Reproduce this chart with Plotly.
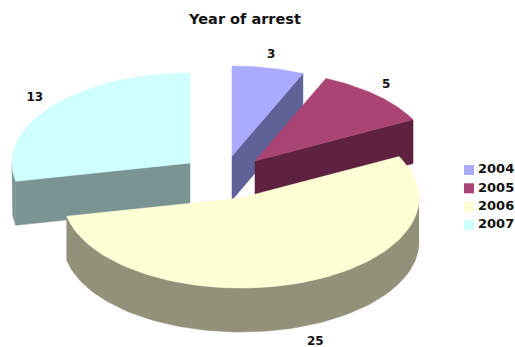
import numpy as np
import plotly.graph_objects as go

# Arrests per year
years = ["2004", "2005", "2006", "2007"]
arrests = [3, 5, 25, 13]

top_colors = ["#AAAAFF", "#A94474", "#FFFFD5", "#CFFFFF"]
side_colors = ["#5E6296", "#5F2140", "#92927A", "#7A9494"]

# Exploded slice centres on the 515x347 canvas
centers_x = [232, 255, 241, 190]
centers_y = [156, 161, 198, 163]
label_nudge_x = [0, 0, 10, -6]
label_nudge_y = [0, 0, 2, 0]

RX, RY = 178, 90   # ellipse radii of the tilted pie
DEPTH = 44         # extruded thickness
LABEL_SCALE_X = 1.08
LABEL_SCALE_Y = 1.15


def arc(cx, cy, start, end, n=90):
    """Points on the tilted rim, angles clockwise from 12 o'clock in radians."""
    t = np.linspace(start, end, n)
    return cx + RX * np.sin(t), cy - RY * np.cos(t)


def add_poly(fig, xs, ys, color):
    fig.add_trace(go.Scatter(x=xs, y=ys, mode="lines", fill="toself", fillcolor=color,
                             line=dict(color=color, width=0.5), hoverinfo="skip",
                             showlegend=False))


fig = go.Figure()

# Turn the values into cumulative sweep angles
fractions = np.array(arrests) / sum(arrests)
ends = np.cumsum(fractions) * 2 * np.pi
starts = ends - fractions * 2 * np.pi

# Radial edge whose cut wall faces the viewer, per slice (2006 shows none)
cut_edges = [ends[0], ends[1], None, starts[3]]

# Back-to-front painting order: 2007, 2004, 2005, 2006
for i in [3, 0, 1, 2]:
    cx, cy = centers_x[i], centers_y[i]
    a0, a1 = starts[i], ends[i]

    # Outer wall: only the part of the rim on the near half of the ellipse
    lo, hi = max(a0, np.pi / 2), min(a1, 3 * np.pi / 2)
    if hi > lo:
        ax, ay = arc(cx, cy, lo, hi)
        add_poly(fig, list(ax) + list(ax[::-1]), list(ay) + list(ay[::-1] + DEPTH), side_colors[i])

    # Cut wall
    edge = cut_edges[i]
    if edge is not None:
        ex, ey = arc(cx, cy, edge, edge, n=1)
        add_poly(fig, [cx, ex[0], ex[0], cx, cx],
                 [cy, ey[0], ey[0] + DEPTH, cy + DEPTH, cy], side_colors[i])

    # Top face
    tx, ty = arc(cx, cy, a0, a1)
    add_poly(fig, [cx] + list(tx) + [cx], [cy] + list(ty) + [cy], top_colors[i])

# Value labels placed just beyond the rim at each slice's mid-angle
for i, value in enumerate(arrests):
    mid = (starts[i] + ends[i]) / 2
    lx = centers_x[i] + LABEL_SCALE_X * RX * np.sin(mid) + label_nudge_x[i]
    ly = centers_y[i] - LABEL_SCALE_Y * RY * np.cos(mid) + label_nudge_y[i]
    if np.cos(mid) < 0:
        ly += DEPTH
    fig.add_trace(go.Scatter(x=[lx], y=[ly], mode="text", text=[str(value)],
                             textposition="middle center", hoverinfo="skip", showlegend=False,
                             textfont=dict(family="DejaVu Sans", size=12, color="#111111",
                                           weight="bold")))

# Key on the right-hand side
key_y = [170 + 18.3 * k for k in range(len(years))]
fig.add_trace(go.Scatter(x=[469] * len(years), y=key_y, mode="markers",
                         marker=dict(symbol="square", size=10, color=top_colors),
                         hoverinfo="skip", showlegend=False))
fig.add_trace(go.Scatter(x=[478] * len(years), y=key_y, mode="text", text=years,
                         textposition="middle right", hoverinfo="skip", showlegend=False,
                         textfont=dict(family="DejaVu Sans", size=13, color="#111111",
                                       weight="bold")))

fig.update_layout(
    width=515, height=347, margin=dict(l=0, r=0, t=0, b=0),
    paper_bgcolor="white", plot_bgcolor="white", showlegend=False,
    title=dict(text="Year of arrest", x=245 / 515, y=1 - 19 / 347, xanchor="center",
               yanchor="middle",
               font=dict(family="DejaVu Sans", size=14.5, color="#111111", weight="bold")),
    xaxis=dict(range=[0, 515], visible=False, fixedrange=True),
    yaxis=dict(range=[347, 0], visible=False, fixedrange=True),
)

fig.write_html("out.html")
